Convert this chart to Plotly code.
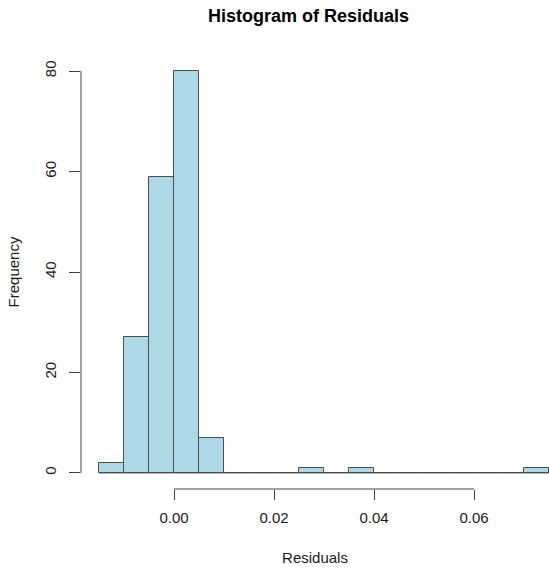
import plotly.graph_objects as go

bin_edges = [-0.015, -0.010, -0.005, 0.000, 0.005, 0.010, 0.015, 0.020, 0.025, 0.030,
             0.035, 0.040, 0.045, 0.050, 0.055, 0.060, 0.065, 0.070, 0.075]
counts = [2, 27, 59, 80, 7, 0, 0, 0, 1, 0, 1, 0, 0, 0, 0, 0, 0, 1]
x_ticks = [0.00, 0.02, 0.04, 0.06]
y_ticks = [0, 20, 40, 60, 80]

centers = [(a + b) / 2 for a, b in zip(bin_edges[:-1], bin_edges[1:])]
widths = [b - a for a, b in zip(bin_edges[:-1], bin_edges[1:])]

W, H = 549, 574
ML, MR, MT, MB = 81, 0, 55, 85
FONT = "Liberation Sans, Arial, sans-serif"
TXT = "#1a1a1a"
AX = "#444444"

fig = go.Figure()
fig.add_trace(go.Bar(
    x=centers, y=counts, width=widths,
    marker=dict(color="#ADD8E6", line=dict(color="#4d4d4d", width=1)),
    hoverinfo="skip",
))

# zero-count bins are drawn as a baseline like R does
fig.add_shape(type="line", xref="x", yref="y",
              x0=bin_edges[0], x1=bin_edges[-1], y0=0, y1=0,
              line=dict(color="#4d4d4d", width=1), layer="above")

# axis lines spanning tick range (R style)
fig.add_shape(type="line", xref="x", yref="paper",
              x0=x_ticks[0], x1=x_ticks[-1], y0=0, y1=0,
              line=dict(color=AX, width=1))
fig.add_shape(type="line", xref="paper", yref="y",
              x0=0, x1=0, y0=y_ticks[0], y1=y_ticks[-1],
              line=dict(color=AX, width=1))

plot_w = W - ML - MR
plot_h = H - MT - MB
fig.add_annotation(text="<b>Histogram of Residuals</b>", xref="paper", yref="paper",
                   x=(308 - ML) / plot_w, y=1 + (MT - 16) / plot_h,
                   xanchor="center", yanchor="middle",
                   showarrow=False, font=dict(family=FONT, size=18, color="#000000"))

fig.update_layout(
    width=W, height=H,
    margin=dict(l=ML, r=MR, t=MT, b=MB, pad=0),
    paper_bgcolor="white", plot_bgcolor="white",
    bargap=0, showlegend=False,
    font=dict(family=FONT, size=15, color=TXT),
    xaxis=dict(range=[-0.0186, 0.075], tickvals=x_ticks, tickformat=".2f",
               ticks="outside", ticklen=10, tickcolor=AX, tickwidth=1,
               ticklabelstandoff=5,
               showline=False, showgrid=False, zeroline=False,
               tickfont=dict(family=FONT, size=15, color=TXT),
               title=dict(text="Residuals", font=dict(family=FONT, size=15, color=TXT), standoff=27)),
    yaxis=dict(range=[-3.2, 83.2], tickvals=y_ticks,
               ticks="outside", ticklen=11, tickcolor=AX, tickwidth=1, tickangle=-90,
               ticklabelstandoff=7,
               showline=False, showgrid=False, zeroline=False,
               tickfont=dict(family=FONT, size=15, color=TXT),
               title=dict(text="Frequency", font=dict(family=FONT, size=15, color=TXT), standoff=18)),
)

fig.write_html("out.html")
